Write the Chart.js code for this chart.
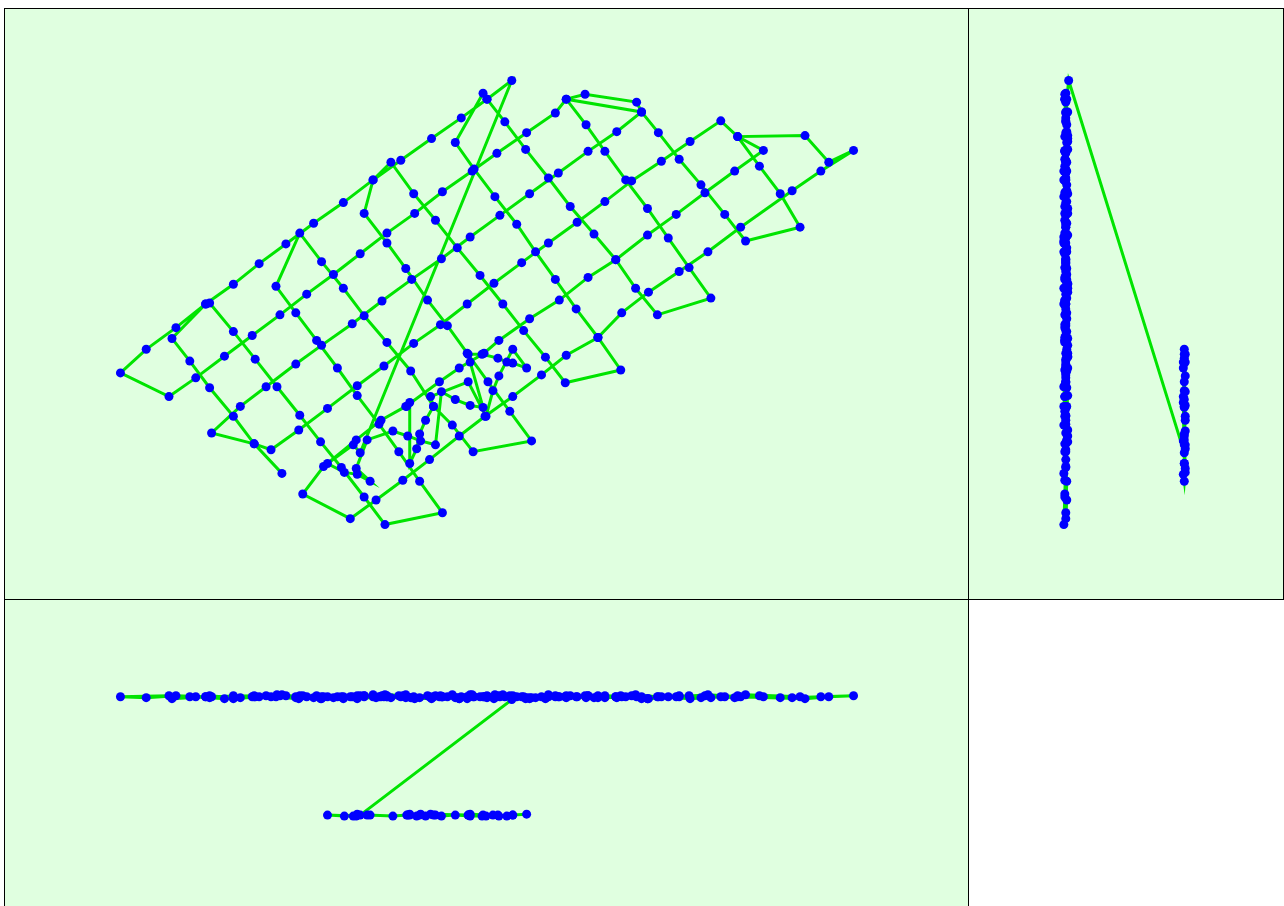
<!DOCTYPE html>
<html>
<head>
<meta charset="utf-8">
<script src="https://cdn.jsdelivr.net/npm/chart.js@4.4.1/dist/chart.umd.min.js"></script>
<style>
  html, body { margin: 0; padding: 0; background: #ffffff; width: 1284px; height: 906px; overflow: hidden; }
  .panel { position: absolute; box-sizing: border-box; border: 1px solid #000; background: #e0ffe0; }
  .panel canvas { position: absolute; left: 0; top: 0; }
  #planPanel  { left: 4px;   top: 8px;   width: 965px; height: 592px; }
  #sidePanel  { left: 968px; top: 8px;   width: 316px; height: 592px; }
  #frontPanel { left: 4px;   top: 599px; width: 965px; height: 330px; }
</style>
</head>
<body>
<div class="panel" id="planPanel"><canvas id="plan" width="963" height="590"></canvas></div>
<div class="panel" id="sidePanel"><canvas id="side" width="314" height="590"></canvas></div>
<div class="panel" id="frontPanel"><canvas id="front" width="963" height="306"></canvas></div>
<script>
// Flight log, one array per flight leg: [east m, north m, altitude m]

// cross lines (north-west / south-east), flown from west to east
const legB1 = [[180,124,162],[152,154,160],[131,182,161],[107,211,159],[87,238,160],[69,261,158],[103,296,160]];
const legB2 = [[107,297,161],[131,268,159],[153,240,160],[175,212,162],[198,183,160],[219,156,158],[240,130,160],[263,100,161],[284,72,162]];
const legB3 = [[342,84,160],[319,116,159],[298,146,161],[278,174,160],[256,203,158],[236,231,160],[215,259,161],[194,287,159],[174,314,160],[198,368,161]];
const legB4 = [[220,339,160],[242,312,158],[263,284,160],[286,257,161],[310,228,159],[333,192,160],[352,173,162],[373,146,160]];
const legB5 = [[432,157,159],[410,187,161],[388,217,160],[367,246,158],[347,274,160],[327,300,161],[305,332,159],[286,358,160],[263,388,161],[272,422,160],[290,440,159]];
const legB6 = [[313,408,160],[335,381,161],[357,353,159],[380,325,160],[403,296,162],[424,269,160],[446,242,158],[466,216,160]];
const legB7 = [[522,229,161],[499,262,159],[477,291,160],[456,321,161],[436,349,159],[417,377,160],[395,405,162],[374,433,160],[355,460,159],[383,510,160],[387,504,161]];
const legB8 = [[405,481,160],[426,453,158],[449,424,160],[471,395,161],[495,367,159],[517,341,160],[537,312,162],[559,285,160]];
const legB9 = [[613,302,159],[591,333,161],[570,363,160],[549,393,158],[527,422,160],[506,451,161],[487,478,159],[467,504,160],[486,509,161],[538,501,160]];
const legB10 = [[543,491,158],[560,470,160],[581,443,161],[603,417,159],[627,387,160],[648,360,162]];
const legB11 = [[703,374,160],[683,408,159],[662,436,161],[640,466,160],[708,467,158],[732,440,160]];

// main lines (south-west / north-east), flown from south-east to north-west
const legA6 = [[757,452,161],[724,431,160],[695,411,159],[643,374,160],[610,349,162],[581,329,160],[550,308,158],[523,287,160],[499,262,161],[467,244,159],[442,224,160],[413,202,161],[385,182,160],[359,162,158],[329,138,160],[302,117,161],[275,97,159],[249,78,160]];
const legA5 = [[201,103,161],[222,131,160],[255,158,159],[280,178,160],[305,192,162],[339,217,160],[359,231,158],[384,246,160],[399,259,161],[430,281,159],[460,300,160],[489,323,161],[517,341,160],[549,366,158],[578,387,160],[607,409,161],[637,431,159],[666,452,160],[640,466,161]];
const legA4 = [[623,482,160],[592,461,158],[563,441,160],[533,421,161],[506,400,159],[478,379,160],[449,358,162],[422,338,160],[394,317,158],[367,296,160],[340,275,161],[313,256,159],[283,233,160],[256,213,161],[226,190,160],[197,168,158],[169,148,160],[152,154,161]];
const legA3 = [[109,165,160],[138,192,159],[164,212,161],[194,235,160],[220,254,158],[251,276,160],[281,299,161],[311,321,159],[341,342,160],[370,364,162],[400,386,160],[430,408,158],[459,429,160],[489,451,161],[518,471,159],[543,491,160]];
const legA2 = [[467,504,161],[456,490,160],[427,470,159],[397,449,160],[372,431,162],[342,410,160],[314,388,158],[286,368,160],[259,347,161],[232,326,159],[205,306,160],[178,285,161],[150,264,160],[122,243,158],[93,221,160],[66,202,161]];
const legA1 = [[17,226,160],[43,250,159],[73,272,161],[103,296,160],[131,316,158],[157,337,160],[184,357,161],[212,378,159],[242,399,160],[272,422,162],[300,442,160],[331,464,158],[361,485,160],[387,504,159],[412,523,157]];

// descent and low-altitude segment
const legLow = [[259,145,38],[252,153,37],[226,134,38],[243,125,37],[256,123,39],[269,116,38],[255,129,37],[266,158,38],
  [292,167,37],[307,162,38],[320,157,39],[335,153,38],[341,207,37],[355,199,38],[370,193,37],[383,191,38],
  [370,237,39],[368,245,38],[382,245,37],[398,241,38],[407,237,37],[413,236,38],[427,231,39],[413,250,38],
  [399,223,37],[393,208,38],[386,182,37],[368,217,38],[330,202,39],[333,192,38],[325,178,37],[319,164,38],
  [316,149,37],[309,134,38],[309,196,39],[306,192,38]];

const flightLegs = [legB1, legB2, legB3, legB4, legB5, legB6, legB7, legB8, legB9, legB10, legB11,
                    legA6, legA5, legA4, legA3, legA2, legA1, legLow];
const track = flightLegs.flat();

const planPoints  = track.map(p => ({ x: p[0], y: p[1] }));
const sidePoints  = track.map(p => ({ x: p[2], y: p[1] }));
const frontPoints = track.map(p => ({ x: p[0], y: p[2] }));

const lineColor = 'rgb(0,228,0)';
const dotColor = '#0000ff';

function makeView(id, points, xs, ys) {
  return new Chart(document.getElementById(id), {
    type: 'scatter',
    data: {
      datasets: [{
        data: points,
        showLine: true,
        borderColor: lineColor,
        borderWidth: 3,
        tension: 0,
        pointRadius: 4.5,
        pointHoverRadius: 4.5,
        pointBorderWidth: 0,
        pointBackgroundColor: dotColor,
        clip: false
      }]
    },
    options: {
      responsive: false,
      animation: false,
      events: [],
      layout: { padding: 0 },
      plugins: { legend: { display: false }, tooltip: { enabled: false } },
      scales: {
        x: Object.assign({ type: 'linear', display: false }, xs),
        y: Object.assign({ type: 'linear', display: false }, ys)
      }
    }
  });
}

// plan view: east / north
makeView('plan', planPoints, { min: -95, max: 868 }, { min: 1, max: 591 });
// side view: altitude (increasing to the left) / north
makeView('side', sidePoints, { min: -59, max: 255, reverse: true }, { min: 1, max: 591 });
// front view: east / altitude
makeView('front', frontPoints, { min: -95, max: 868 }, { min: -51, max: 255 });
</script>
</body>
</html>
